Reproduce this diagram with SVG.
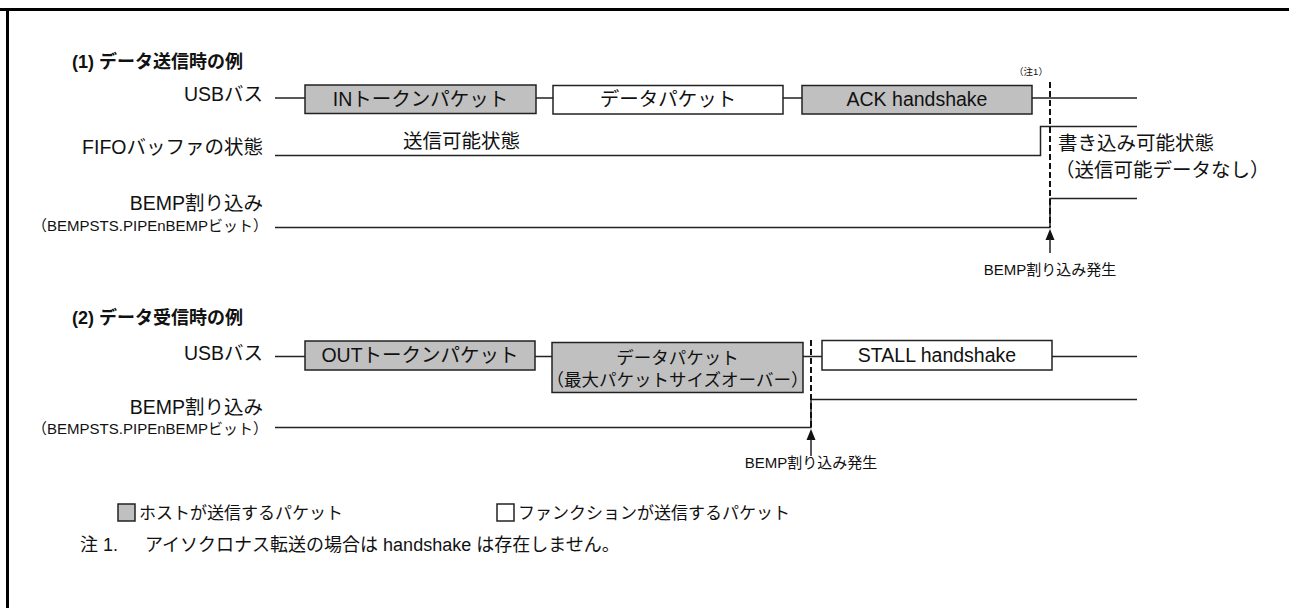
<svg xmlns="http://www.w3.org/2000/svg" width="1289" height="608" viewBox="0 0 1289 608">
<style>
text { font-family: "Liberation Sans", "Noto Sans CJK JP", sans-serif; fill: #111; }
.lbl { font-size: 19.5px; text-anchor: end; }
.sub { font-size: 15px; text-anchor: end; }
.ttl { font-size: 18px; font-weight: bold; }
.txt { font-size: 19.5px; }
.ctr { font-size: 19.5px; text-anchor: middle; }
.ctr2 { font-size: 17.5px; text-anchor: middle; }
.box { fill: #fff; stroke: #222; stroke-width: 1.5; }
.host { fill: #c0c0c0; }
.sig { fill: none; stroke: #222; stroke-width: 1.5; }
.dash { fill: none; stroke: #111; stroke-width: 2; stroke-dasharray: 6 3; }
.evt { font-size: 15px; text-anchor: middle; }
.leg { font-size: 17px; }
.nt { font-size: 18px; }
.frame { fill: none; stroke: #000; stroke-width: 3; }
</style>
<defs>
<polygon id="ah" points="0,0 -4.5,11 4.5,11" fill="#111"/>
</defs>

<g id="frame">
<path class="frame" d="M0 9.5 H1289 M7.5 8 V608"/>
</g>

<!-- Section 1 -->
<g id="title1"><text class="ttl" x="72" y="68">(1) データ送信時の例</text></g>
<g id="usb1-label"><text class="lbl" x="263" y="101">USBバス</text></g>
<g id="fifo-label"><text class="lbl" x="263" y="154">FIFOバッファの状態</text></g>
<g id="bemp1-label">
<text class="lbl" x="263" y="210">BEMP割り込み</text>
<text class="sub" x="268" y="231">（BEMPSTS.PIPEnBEMPビット）</text>
</g>

<g id="in-token">
<rect class="box host" x="305" y="85" width="231" height="28.5"/>
<text class="ctr" x="420.5" y="106">INトークンパケット</text>
</g>
<g id="data1">
<rect class="box" x="553" y="85.5" width="230" height="28.5"/>
<text class="ctr" x="668" y="106">データパケット</text>
</g>
<g id="ack">
<rect class="box host" x="802" y="85.5" width="230" height="28.5"/>
<text class="ctr" x="917" y="106">ACK handshake</text>
</g>
<g id="note1-mark"><text x="1031" y="75" font-size="9.5" text-anchor="middle">（注1）</text></g>
<g id="fifo-state1"><text class="txt" x="403" y="148">送信可能状態</text></g>
<g id="fifo-state2">
<text class="txt" x="1058" y="150">書き込み可能状態</text>
<text class="txt" x="1055" y="177">（送信可能データなし）</text>
</g>
<g id="event1"><text class="evt" x="1050" y="275">BEMP割り込み発生</text></g>

<!-- Section 2 -->
<g id="title2"><text class="ttl" x="72" y="324">(2) データ受信時の例</text></g>
<g id="usb2-label"><text class="lbl" x="263" y="360">USBバス</text></g>
<g id="bemp2-label">
<text class="lbl" x="263" y="414">BEMP割り込み</text>
<text class="sub" x="268" y="434">（BEMPSTS.PIPEnBEMPビット）</text>
</g>
<g id="out-token">
<rect class="box host" x="305" y="341" width="230" height="29"/>
<text class="ctr" x="420" y="362">OUTトークンパケット</text>
</g>
<g id="data2">
<rect class="box host" x="552" y="342.5" width="251" height="50"/>
<text class="ctr2" x="677.5" y="364">データパケット</text>
<text class="ctr2" x="677.5" y="386">（最大パケットサイズオーバー）</text>
</g>
<g id="stall">
<rect class="box" x="822" y="340.5" width="230" height="29.5"/>
<text class="ctr" x="937" y="362">STALL handshake</text>
</g>
<g id="event2"><text class="evt" x="811" y="468">BEMP割り込み発生</text></g>

<!-- Legend -->
<g id="legend-host">
<rect class="box host" x="118" y="504" width="17" height="17"/>
<text class="leg" x="139" y="519">ホストが送信するパケット</text>
</g>
<g id="legend-func">
<rect class="box" x="497" y="504" width="17" height="17"/>
<text class="leg" x="518" y="519">ファンクションが送信するパケット</text>
</g>
<g id="note">
<text class="nt" x="80" y="551">注 1.</text>
<text class="nt" x="145" y="551">アイソクロナス転送の場合は handshake は存在しません。</text>
</g>

<g id="connectors">
<path class="sig" d="M275 98 H305 M536 98 H553 M783 98 H802 M1032 98 H1137"/>
<path class="sig" d="M275 155.5 H1040.5 V126.5 H1137"/>
<path class="sig" d="M275 227.5 H1050 V198.5 H1137"/>
<path class="dash" d="M1050 82 V227"/>
<use href="#ah" x="1050" y="229"/>
<path class="sig" d="M1050 239 V253"/>
<path class="sig" d="M275 356.5 H305 M535 356.5 H552 M803 356.5 H822 M1052 356.5 H1137"/>
<path class="sig" d="M275 427.5 H811 V399.5 H1137"/>
<path class="dash" d="M811 340 V427"/>
<use href="#ah" x="811" y="429"/>
<path class="sig" d="M811 439 V456"/>
</g>
</svg>
